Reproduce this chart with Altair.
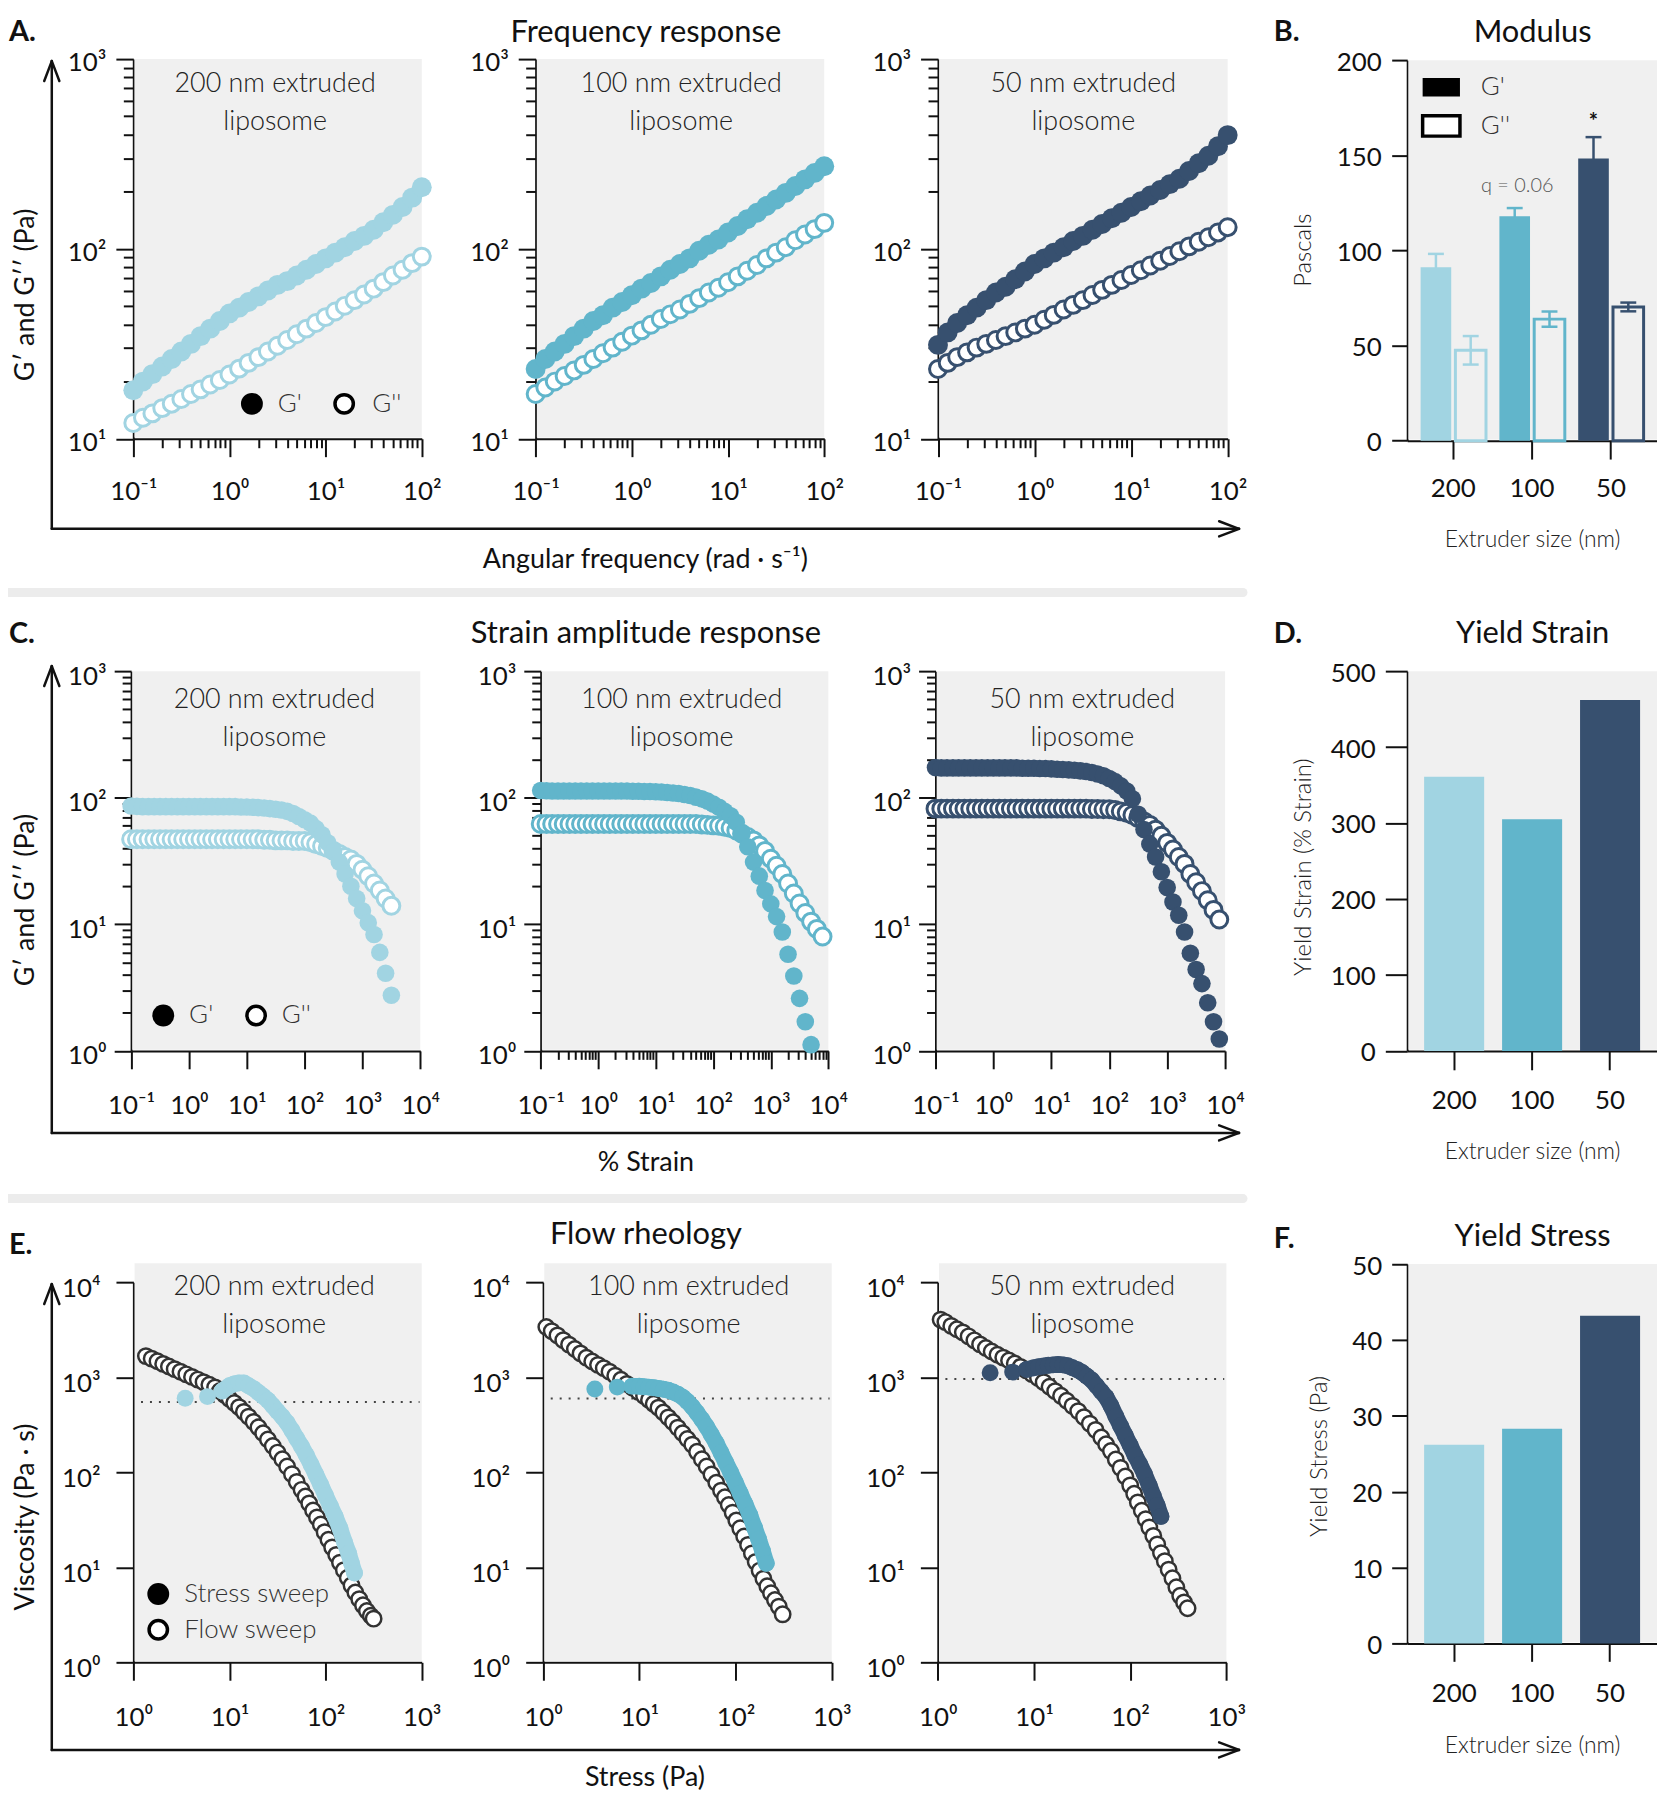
import altair as alt
import pandas as pd

# ===================== DATA =====================
EXTRUDER = ["200", "100", "50"]

# ---- A. Frequency response: angular frequency (rad/s) vs G' / G'' (Pa)
FREQ = [0.1, 0.126, 0.158, 0.2, 0.251, 0.316, 0.398, 0.501, 0.631, 0.794,
        1.0, 1.26, 1.58, 2.0, 2.51, 3.16, 3.98, 5.01, 6.31, 7.94,
        10.0, 12.6, 15.8, 20.0, 25.1, 31.6, 39.8, 50.1, 63.1, 79.4, 100.0]
FREQ_GP_200 = [18.0, 20.0, 21.9, 24.0, 26.3, 28.8, 31.6, 34.7, 38.0, 41.7,
               45.7, 49.0, 52.5, 56.2, 60.3, 64.6, 67.6, 72.4, 77.6, 83.2,
               89.1, 95.5, 102, 110, 117, 126, 138, 151, 166, 186, 211]
FREQ_GPP_200 = [12.1, 12.9, 13.6, 14.5, 15.3, 16.2, 17.2, 18.2, 19.3, 20.4,
                21.8, 23.4, 25.1, 26.9, 28.8, 30.9, 33.1, 35.5, 38.0, 40.7,
                43.7, 46.8, 50.1, 53.7, 57.5, 61.7, 66.8, 72.4, 77.6, 84.1, 91.0]
FREQ_GP_100 = [23.3, 26.3, 28.8, 31.6, 34.7, 38.0, 41.7, 44.7, 49.0, 52.5,
               57.0, 61.7, 66.1, 71.6, 77.6, 83.2, 89.1, 97.7, 105, 112,
               122, 132, 143, 155, 168, 182, 197, 214, 232, 251, 272]
FREQ_GPP_100 = [17.2, 18.6, 20.0, 21.4, 22.9, 24.5, 26.3, 28.2, 30.2, 32.4,
                34.9, 37.2, 39.8, 42.7, 45.2, 47.9, 51.3, 55.0, 58.9, 62.4,
                66.7, 71.6, 76.7, 82.2, 89.1, 95.5, 102, 111, 119, 127, 137]
FREQ_GP_50 = [31.2, 36.3, 40.7, 44.7, 49.0, 53.7, 58.9, 63.1, 69.2, 75.9,
              83.2, 89.1, 95.5, 102, 110, 117, 126, 135, 145, 155,
              166, 178, 191, 204, 219, 234, 257, 282, 309, 347, 397]
FREQ_GPP_50 = [23.3, 25.1, 26.9, 28.5, 30.2, 31.6, 33.1, 34.7, 36.3, 38.0,
               39.8, 42.3, 44.9, 47.9, 50.7, 53.7, 57.1, 60.8, 64.6, 68.5,
               72.8, 77.1, 81.7, 86.5, 91.6, 97.1, 103, 109, 115, 122, 130]

# ---- C. Strain amplitude response: % strain vs G' / G'' (Pa)
STRAIN = [0.1, 0.126, 0.158, 0.2, 0.251, 0.316, 0.398, 0.501, 0.631, 0.794,
          1.0, 1.26, 1.58, 2.0, 2.51, 3.16, 3.98, 5.01, 6.31, 7.94,
          10.0, 12.6, 15.8, 20.0, 25.1, 31.6, 39.8, 50.1, 63.1, 79.4,
          100, 126, 158, 200, 251, 316, 398, 501, 631, 794,
          1000, 1259, 1585, 1995, 2512, 3162, 3981, 5012, 6310, 7943]
STRAIN_GP_200 = [86, 85.5, 85, 85, 85, 85, 85, 85, 85, 85,
                 85, 85, 85, 85, 85, 85, 85, 85, 85, 84.5,
                 84.5, 84, 83.5, 83, 82, 81, 80, 78, 75, 71,
                 67, 63, 57, 51, 44, 37.5, 31, 25, 20, 16,
                 12.8, 10.3, 8.3, 6.0, 4.1, 2.75]
STRAIN_GPP_200 = [47, 47, 47, 47, 47, 47, 47, 47, 47, 47,
                  47, 47, 47, 47, 47, 47, 47, 47, 47, 47,
                  47, 47, 47, 46.5, 46.5, 46, 46, 46, 45.5, 45.5,
                  45.5, 44.5, 43, 41.5, 40, 38, 36, 34, 32.5, 30,
                  27, 24, 21, 18.5, 16, 14]
STRAIN_GP_100 = [114, 113.5, 113, 113, 113, 113, 113, 113, 113, 113,
                 113, 113, 113, 113, 113, 113, 112.5, 112.5, 112, 112,
                 111.5, 111, 110, 109, 108, 106, 104, 101, 98, 94,
                 89, 84, 78, 72, 64, 52, 41, 31, 24, 18.5,
                 14.5, 11.5, 8.7, 5.8, 3.9, 2.6, 1.7, 1.12]
STRAIN_GPP_100 = [62, 62, 62, 62, 62, 62, 62, 62, 62, 62,
                  62, 62, 62, 62, 62, 62, 62, 62, 62, 62,
                  62, 62, 62, 62, 62, 62, 62, 62, 61.5, 61,
                  60.5, 60, 59, 57.5, 55, 52, 49, 46, 42, 38,
                  33, 29, 25, 21, 17.5, 14.6, 12.3, 10.5, 9.2, 8.0]
STRAIN_GP_50 = [173, 172, 172, 172, 172, 172, 172, 172, 172, 172,
                172, 172, 172, 172, 172, 171, 171, 171, 170, 170,
                169, 168, 167, 166, 165, 163, 161, 158, 154, 149,
                142, 134, 124, 113, 98, 74, 56, 43, 34, 26,
                19.5, 15, 11.8, 8.7, 5.9, 4.4, 3.4, 2.4, 1.7, 1.24]
STRAIN_GPP_50 = [82, 82, 82, 82, 82, 82, 82, 82, 82, 82,
                 82, 82, 82, 82, 82, 82, 82, 82, 82, 82,
                 82, 82, 82, 82, 82, 82, 82, 81.5, 81.5, 81,
                 81, 80, 78, 76, 73, 69, 65, 61, 56, 50,
                 44, 39, 34, 30, 25, 21.5, 18.3, 15.5, 13, 10.9]

# ---- E. Flow rheology: stress (Pa) vs viscosity (Pa.s)
FLOW_S_200 = [1.35, 1.55, 1.78, 2.04, 2.34, 2.69, 3.09, 3.55, 4.07, 4.68,
              5.37, 6.17, 7.08, 7.94, 8.91, 10.0, 11.2, 12.6, 14.1, 15.8,
              17.8, 20.0, 22.4, 25.1, 28.2, 31.6, 35.5, 39.8, 44.7, 50.1,
              56.2, 61.7, 67.6, 74.1, 81.3, 89.1, 97.7, 107, 117, 129,
              141, 155, 170, 186, 204, 224, 245, 269, 295, 316]
FLOW_V_200 = [1667, 1567, 1472, 1380, 1297, 1216, 1143, 1072, 1007, 944,
              887, 832, 782, 716, 653, 592, 537, 484, 432, 385,
              339, 297, 257, 221, 189, 161, 137, 115, 95.5, 79.1,
              65.3, 55.6, 47.0, 39.6, 33.5, 28.2, 23.4, 19.5, 16.2, 13.5,
              11.2, 9.33, 7.76, 6.46, 5.43, 4.62, 3.98, 3.47, 3.09, 2.88]
SWEEP_S_200 = [3.46, 5.9, 8.4, 10.0, 11.2, 12.6, 14.1, 15.8, 17.8, 20.0,
               22.4, 25.1, 28.2, 31.6, 35.5, 39.8, 44.7, 50.1, 56.2, 63.1,
               70.8, 79.4, 89.1, 100, 112, 126, 141, 158, 174, 186, 200]
SWEEP_V_200 = [600, 625, 717, 813, 851, 871, 871, 813, 759, 692,
               631, 573, 501, 437, 383, 331, 275, 226, 187, 151,
               120, 94.4, 73.8, 56.9, 44.2, 34.2, 25.7, 18.2, 14.0, 11.0, 8.7]
FLOW_S_100 = [1.08, 1.23, 1.41, 1.62, 1.86, 2.14, 2.45, 2.82, 3.24, 3.72,
              4.27, 4.90, 5.62, 6.46, 7.41, 8.51, 9.77, 11.2, 12.6, 14.1,
              15.8, 17.8, 20.0, 22.4, 25.1, 28.2, 31.6, 35.5, 39.8, 44.7,
              50.1, 56.2, 63.1, 70.8, 77.6, 85.1, 93.3, 102, 112, 123,
              135, 148, 162, 178, 195, 214, 234, 257, 282, 309]
FLOW_V_100 = [3373, 3055, 2754, 2455, 2203, 1982, 1778, 1603, 1462, 1349,
              1245, 1143, 1038, 940, 851, 774, 701, 634, 577, 525,
              478, 425, 378, 336, 295, 257, 224, 195, 164, 137,
              115, 94.6, 77.6, 64.0, 54.5, 45.2, 37.6, 31.1, 25.7, 21.1,
              17.2, 14.0, 11.4, 9.23, 7.59, 6.31, 5.33, 4.52, 3.85, 3.2]
SWEEP_S_100 = [3.45, 5.9, 8.4, 10.0, 11.2, 12.6, 14.1, 15.8, 17.8, 20.0,
               22.4, 25.1, 28.2, 31.6, 35.5, 39.8, 44.7, 50.1, 56.2, 63.1,
               70.8, 79.4, 89.1, 100, 112, 126, 141, 158, 174, 191, 209]
SWEEP_V_100 = [750, 787, 805, 803, 794, 787, 776, 762, 748, 728,
               700, 664, 617, 556, 490, 422, 359, 302, 248, 202,
               160, 126, 99.5, 77.6, 60, 46.2, 35.5, 26, 19.7, 14.8, 11]
FLOW_S_50 = [1.07, 1.20, 1.38, 1.58, 1.82, 2.09, 2.40, 2.75, 3.16, 3.63,
             4.17, 4.79, 5.50, 6.31, 7.24, 8.32, 9.55, 11.0, 12.6, 14.5,
             16.6, 19.1, 21.9, 25.1, 28.8, 33.1, 38.0, 43.7, 50.1, 56.2,
             63.1, 70.8, 79.4, 89.1, 100, 110, 120, 132, 145, 158,
             174, 191, 209, 229, 251, 275, 302, 331, 363, 395]
FLOW_V_50 = [4036, 3802, 3467, 3199, 2965, 2692, 2443, 2213, 2028, 1866,
             1722, 1607, 1500, 1393, 1282, 1178, 1079, 982, 887, 794,
             713, 637, 565, 499, 440, 380, 325, 279, 232, 197,
             167, 136, 111, 90.2, 72.8, 59.3, 48.2, 39.3, 32.1, 26.3,
             21.4, 17.4, 14.1, 11.6, 9.44, 7.67, 6.17, 5.01, 4.27, 3.71]
SWEEP_S_50 = [3.5, 6.0, 8.4, 10.0, 11.2, 12.6, 14.1, 15.8, 17.8, 20.0,
              22.4, 25.1, 28.2, 31.6, 35.5, 39.8, 44.7, 50.1, 56.2, 63.1,
              70.8, 79.4, 89.1, 100, 112, 126, 141, 158, 174, 191, 209]
SWEEP_V_50 = [1114, 1132, 1208, 1259, 1288, 1312, 1334, 1349, 1361, 1349,
              1318, 1259, 1197, 1122, 1023, 933, 813, 708, 617, 501,
              389, 307, 243, 192, 151, 121, 95.5, 72.4, 56.2, 44.7, 34.3]
YIELD_VISC = [550, 598, 960]          # dotted reference lines

# ---- B / D / F bar panels
MOD_GP = [91.2, 118.0, 148.4]
MOD_GP_SD = [7.0, 4.3, 11.2]
MOD_GPP = [47.5, 63.9, 70.3]
MOD_GPP_SD = [7.5, 4.0, 2.3]
YIELD_STRAIN = [361, 305, 462]
YIELD_STRESS = [26.2, 28.3, 43.2]

# tick values
FREQ_MAJOR = [0.1, 1, 10, 100]
FREQ_MINOR = [0.2, 0.3, 0.4, 0.5, 0.6, 0.7, 0.8, 0.9, 2, 3, 4, 5, 6, 7, 8, 9,
              20, 30, 40, 50, 60, 70, 80, 90]
A_Y_MAJOR = [10, 100, 1000]
A_Y_MINOR = [20, 30, 40, 50, 60, 70, 80, 90, 200, 300, 400, 500, 600, 700, 800, 900]
STRAIN_MAJOR = [0.1, 1, 10, 100, 1000, 10000]
STRAIN_MINOR = [0.2, 0.3, 0.4, 0.5, 0.6, 0.7, 0.8, 0.9, 2, 3, 4, 5, 6, 7, 8, 9,
                20, 30, 40, 50, 60, 70, 80, 90, 200, 300, 400, 500, 600, 700, 800, 900,
                2000, 3000, 4000, 5000, 6000, 7000, 8000, 9000]
C_Y_MAJOR = [1, 10, 100, 1000]
C_Y_MINOR = [2, 3, 4, 5, 6, 7, 8, 9, 20, 30, 40, 50, 60, 70, 80, 90,
             200, 300, 400, 500, 600, 700, 800, 900]
E_X_MAJOR = [1, 10, 100, 1000]
E_Y_MAJOR = [1, 10, 100, 1000, 10000]
MOD_TICKS = [0, 50, 100, 150, 200]
STRAIN_TICKS = [0, 100, 200, 300, 400, 500]
STRESS_TICKS = [0, 10, 20, 30, 40, 50]

# ===================== STYLE / LAYOUT =====================
W, H = 1657, 1792
FONT = "Lato"
INK = "#111111"
BG = "#f0f0f0"
RING = "#333333"
COLORS = ["#a1d4e2", "#61b5cb", "#37506f"]
COL = dict(zip(EXTRUDER, COLORS))
LOG_LABEL = ("datum.value < 0.5 ? '10⁻¹' : datum.value < 5 ? '10⁰' : "
             "datum.value < 50 ? '10¹' : datum.value < 500 ? '10²' : "
             "datum.value < 5000 ? '10³' : '10⁴'")


def x_axis(ybase, tick, values=None, pad=0, labels=True, domain=True, expr=LOG_LABEL):
    kw = dict(orient="bottom", offset=ybase - H, tickSize=tick, title=None,
              grid=False, domain=domain, labels=labels)
    if values is not None:
        kw["values"] = values
    if labels:
        kw.update(labelPadding=pad, labelBaseline="middle", labelAngle=0,
                  labelFlush=False, labelOverlap=False)
        if expr:
            kw["labelExpr"] = expr
    return alt.Axis(**kw)


def y_axis(xbase, tick, values, pad=0, labels=True, domain=True, expr=LOG_LABEL, loff=4):
    kw = dict(orient="left", offset=-xbase, values=values, tickSize=tick, title=None,
              grid=False, domain=domain, labels=labels)
    if labels:
        kw.update(labelPadding=pad, labelBaseline="middle", labelAlign="right",
                  labelOffset=loff, labelFlush=False, labelOverlap=False)
        if expr:
            kw["labelExpr"] = expr
    return alt.Axis(**kw)


def log_scales(xr, yr, xdom, ydom):
    return (alt.Scale(type="log", domain=xdom, range=xr, nice=False),
            alt.Scale(type="log", domain=ydom, range=yr, nice=False))


def log_panel(xr, yr, xdom, ydom, ytop, xmaj, ymaj, ax, series, dotted=None):
    xs, ys = log_scales(xr, yr, xdom, ydom)
    xa = x_axis(yr[0], ax["xt"], xmaj, ax["xpad"])
    ya = y_axis(xr[0], ax["yt"], ymaj, ax["ypad"], loff=ax["yoff"])

    def X():
        return alt.X("x:Q", scale=xs, axis=xa)

    def Y():
        return alt.Y("y:Q", scale=ys, axis=ya)

    bgdf = pd.DataFrame({"x": [xdom[0]], "x2": [xdom[1]], "y": [ydom[0]], "y2": [ytop]})
    parts = [alt.Chart(bgdf).mark_rect(color=BG, xOffset=1.2, yOffset=-1.2).encode(
        x=X(), x2="x2:Q", y=Y(), y2="y2:Q")]
    if dotted is not None:
        ddf = pd.DataFrame({"x": [1.2], "x2": [950], "y": [dotted]})
        parts.append(alt.Chart(ddf).mark_rule(color="#444444", strokeWidth=2, strokeDash=[2, 7]).encode(
            x=X(), x2="x2:Q", y=Y()))
    for s in series:
        df = pd.DataFrame({"x": s["x"][:len(s["y"])], "y": s["y"]})
        if s["kind"] == "open":
            parts.append(alt.Chart(df).mark_point(
                shape="circle", filled=True, fill="white", stroke=s["color"],
                strokeWidth=s["sw"], size=s["size"], opacity=1).encode(x=X(), y=Y()))
        elif s["kind"] == "band":
            parts.append(alt.Chart(df).transform_filter("datum.x >= 8").mark_line(
                color=s["color"], strokeWidth=s["width"], strokeCap="round",
                strokeJoin="round", opacity=1).encode(x=X(), y=Y()))
        else:
            parts.append(alt.Chart(df).mark_circle(
                color=s["color"], size=s["size"], opacity=1).encode(x=X(), y=Y()))
    return alt.layer(*parts)


def minor_layer(xr, yr, xdom, ydom, xminor, yminor, xt=9, yt=10):
    xs, ys = log_scales(xr, yr, xdom, ydom)
    df = pd.DataFrame({"x": [xdom[0]], "y": [ydom[0]]})
    xa = x_axis(yr[0], xt, xminor, labels=False, domain=False) if xminor else None
    ya = y_axis(xr[0], yt, yminor, labels=False, domain=False) if yminor else None
    return alt.Chart(df).mark_point(opacity=0).encode(
        x=alt.X("x:Q", scale=xs, axis=xa), y=alt.Y("y:Q", scale=ys, axis=ya))


def px_text(rows, **mk):
    df = pd.DataFrame(rows, columns=["t", "x", "y"])
    return alt.Chart(df).mark_text(font=FONT, **mk).encode(
        x=alt.X("x:Q", scale=None, axis=None), y=alt.Y("y:Q", scale=None, axis=None), text="t:N")


def px_rules(rows, **mk):
    df = pd.DataFrame(rows, columns=["x", "y", "x2", "y2"])
    return alt.Chart(df).mark_rule(**mk).encode(
        x=alt.X("x:Q", scale=None, axis=None), y=alt.Y("y:Q", scale=None, axis=None),
        x2="x2:Q", y2="y2:Q")


def px_rects(rows, **mk):
    df = pd.DataFrame(rows, columns=["x", "y", "x2", "y2"])
    return alt.Chart(df).mark_rect(**mk).encode(
        x=alt.X("x:Q", scale=None, axis=None), y=alt.Y("y:Q", scale=None, axis=None),
        x2="x2:Q", y2="y2:Q")


def px_points(rows, **mk):
    df = pd.DataFrame(rows, columns=["x", "y"])
    return alt.Chart(df).mark_point(**mk).encode(
        x=alt.X("x:Q", scale=None, axis=None), y=alt.Y("y:Q", scale=None, axis=None))


layers = []

# ---------------- row A ----------------
A_X = [(125.9, 415.8), (530.2, 820.2), (934.5, 1225.6)]
A_YR = [428.5, 46.8]
AX_A = dict(xt=18, xpad=35, yt=17.5, ypad=10, yoff=4)
A_SERIES = [(FREQ_GP_200, FREQ_GPP_200), (FREQ_GP_100, FREQ_GPP_100), (FREQ_GP_50, FREQ_GPP_50)]
for (x0, x1), ext, (gp, gpp) in zip(A_X, EXTRUDER, A_SERIES):
    layers.append(log_panel([x0, x1], A_YR, [0.1, 100], [10, 1000], 1000, FREQ_MAJOR, A_Y_MAJOR, AX_A, [
        dict(kind="open", x=FREQ, y=gpp, color=COL[ext], sw=3, size=289),
        dict(kind="filled", x=FREQ, y=gp, color=COL[ext], size=400)]))
    layers.append(minor_layer([x0, x1], A_YR, [0.1, 100], [10, 1000], FREQ_MINOR, A_Y_MINOR))

# ---------------- row C ----------------
C_X = [(123.7, 414.3), (535.3, 824.3), (932.0, 1223.0)]
C_YR = [1043.6, 662.0]
AX_C = dict(xt=18, xpad=37, yt=17, ypad=8, yoff=5)
C_SERIES = [(STRAIN_GP_200, STRAIN_GPP_200), (STRAIN_GP_100, STRAIN_GPP_100), (STRAIN_GP_50, STRAIN_GPP_50)]
for i, ((x0, x1), ext, (gp, gpp)) in enumerate(zip(C_X, EXTRUDER, C_SERIES)):
    layers.append(log_panel([x0, x1], C_YR, [0.1, 10000], [1, 1000], 1000, STRAIN_MAJOR, C_Y_MAJOR, AX_C, [
        dict(kind="open", x=STRAIN, y=gpp, color=COL[ext], sw=3, size=289),
        dict(kind="filled", x=STRAIN, y=gp, color=COL[ext], size=313)]))
    layers.append(minor_layer([x0, x1], C_YR, [0.1, 10000], [1, 1000],
                              STRAIN_MINOR if i == 1 else None, C_Y_MINOR, xt=8.5, yt=9))

# ---------------- row E ----------------
E_X = [(126.0, 415.7), (537.7, 827.7), (934.3, 1224.3)]
E_YR = [1658.0, 1276.0]
AX_E = dict(xt=18, xpad=37.6, yt=17.5, ypad=16, yoff=6)
E_SERIES = [(FLOW_S_200, FLOW_V_200, SWEEP_S_200, SWEEP_V_200),
            (FLOW_S_100, FLOW_V_100, SWEEP_S_100, SWEEP_V_100),
            (FLOW_S_50, FLOW_V_50, SWEEP_S_50, SWEEP_V_50)]
for (x0, x1), ext, (fs, fv, ss, sv), yv in zip(E_X, EXTRUDER, E_SERIES, YIELD_VISC):
    layers.append(log_panel([x0, x1], E_YR, [1, 1000], [1, 10000], 15800, E_X_MAJOR, E_Y_MAJOR, AX_E, [
        dict(kind="open", x=fs, y=fv, color=RING, sw=2.5, size=240),
        dict(kind="band", x=ss, y=sv, color=COL[ext], width=16.5),
        dict(kind="filled", x=ss, y=sv, color=COL[ext], size=289)], dotted=yv))

# ---------------- bar panels ----------------
BAR_RANGE = [1406, 1657]
color_enc = alt.Color("ext:N", scale=alt.Scale(domain=EXTRUDER, range=COLORS), legend=None)


def bar_bg(ys, top, yaxis):
    df = pd.DataFrame({"y": [0], "y2": [top]})
    return alt.Chart(df).mark_rect(color=BG, yOffset=-1.2).encode(
        x=alt.value(1407.2), x2=alt.value(1657), y=alt.Y("y:Q", scale=ys, axis=yaxis), y2="y2:Q")


# B. Modulus
mod = pd.DataFrame({"ext": EXTRUDER + EXTRUDER,
                    "series": ["G'"] * 3 + ["G''"] * 3,
                    "val": MOD_GP + MOD_GPP,
                    "sd": MOD_GP_SD + MOD_GPP_SD})
mod["lo"] = mod["val"] - mod["sd"]
mod["hi"] = mod["val"] + mod["sd"]
ysB = alt.Scale(domain=[0, 200], range=[430.4, 48.2], nice=False, zero=True)
yaB = y_axis(1406, 15.6, MOD_TICKS, pad=10.4, expr=None, loff=2)
xsB = alt.Scale(domain=EXTRUDER, range=BAR_RANGE, paddingInner=0.17, paddingOuter=0.17)
xaB = x_axis(430.4, 18.5, pad=29.4, expr=None)
offB = alt.Scale(domain=["G'", "G''"], paddingInner=0.12, paddingOuter=0)


def XB():
    return alt.X("ext:N", scale=xsB, sort=EXTRUDER, axis=xaB)


def OB():
    return alt.XOffset("series:N", scale=offB, sort=["G'", "G''"])


def YB(field):
    return alt.Y(field + ":Q", scale=ysB, axis=yaB)


layers.append(alt.layer(
    bar_bg(ysB, 200, yaB),
    alt.Chart(mod).mark_rule(strokeWidth=2.5).encode(
        x=XB(), xOffset=OB(), y=YB("lo"), y2="hi:Q", color=color_enc),
    alt.Chart(mod).mark_point(shape="stroke", size=256, strokeWidth=2.5, opacity=1).encode(
        x=XB(), xOffset=OB(), y=YB("hi"), color=color_enc),
    alt.Chart(mod).mark_point(shape="stroke", size=256, strokeWidth=2.5, opacity=1).encode(
        x=XB(), xOffset=OB(), y=YB("lo"), color=color_enc),
    alt.Chart(mod).transform_filter("datum.series == \"G'\"").mark_bar(opacity=1).encode(
        x=XB(), xOffset=OB(), y=YB("val"), color=color_enc),
    alt.Chart(mod).transform_filter("datum.series == \"G''\"").mark_bar(
        filled=False, strokeWidth=3, opacity=1).encode(
        x=XB(), xOffset=OB(), y=YB("val"), color=color_enc),
))

# D. Yield strain, F. Yield stress
for vals, ydom, yr, ticks, ybase, ytick, xtick, xpad in [
        (YIELD_STRAIN, 500, [1043.6, 662.0], STRAIN_TICKS, 1043.6, 22, 19, 31),
        (YIELD_STRESS, 50, [1639.0, 1257.8], STRESS_TICKS, 1639.0, 15.6, 18, 32)]:
    df = pd.DataFrame({"ext": EXTRUDER, "val": vals})
    ys = alt.Scale(domain=[0, ydom], range=yr, nice=False, zero=True)
    ya = y_axis(1406, ytick, ticks, pad=10, expr=None, loff=2)
    xs = alt.Scale(domain=EXTRUDER, range=BAR_RANGE, paddingInner=0.23, paddingOuter=0.217)
    layers.append(alt.layer(
        bar_bg(ys, ydom, ya),
        alt.Chart(df).mark_bar(opacity=1).encode(
            x=alt.X("ext:N", scale=xs, sort=EXTRUDER, axis=x_axis(ybase, xtick, pad=xpad, expr=None)),
            y=alt.Y("val:Q", scale=ys, axis=ya), color=color_enc)))

# ---------------- decorations ----------------
layers.append(px_rules([(0, 583, 1241, 583), (0, 1192, 1241, 1192)],
                       color="#ececec", strokeWidth=9, strokeCap="round"))
arrows = []
for ytop, ybot in [(49, 519), (657, 1126), (1278, 1746)]:
    arrows += [(44, ybot, 44, ytop), (44, ybot, 1237, ybot),
               (36.4, ytop + 20, 44, ytop), (51.6, ytop + 20, 44, ytop),
               (1217, ybot - 7.6, 1237, ybot), (1217, ybot + 7.6, 1237, ybot)]
layers.append(px_rules(arrows, color=INK, strokeWidth=2.5, strokeCap="round"))

layers.append(px_text([("A.", 1, 29), ("B.", 1272, 29), ("C.", 1, 634),
                       ("D.", 1272, 634), ("E.", 1, 1247.5), ("F.", 1272, 1241.7)],
                      fontSize=29, fontWeight="bold", align="left", baseline="alphabetic", color=INK))
layers.append(px_text([("Frequency response", 641, 30), ("Modulus", 1532, 30),
                       ("Strain amplitude response", 641, 633.3), ("Yield Strain", 1532, 634),
                       ("Flow rheology", 641, 1238), ("Yield Stress", 1532, 1240)],
                      fontSize=31, align="center", baseline="alphabetic", color=INK))

panel_rows = []
for xs_, b1, b2 in [([268.4, 676.5, 1080.5], 80, 118), ([267.7, 677, 1079.5], 698.7, 737),
                    ([267.5, 684, 1079.5], 1288.7, 1327)]:
    for xc, ext in zip(xs_, EXTRUDER):
        panel_rows.append((ext + " nm extruded", xc, b1))
        panel_rows.append(("liposome", xc, b2))
layers.append(px_text(panel_rows, fontSize=27, fontWeight=300, align="center",
                      baseline="alphabetic", color="#222222"))

layers.append(px_text([("G′ and G′′ (Pa)", 18, 284), ("G′ and G′′ (Pa)", 18, 892),
                       ("Viscosity (Pa · s)", 18, 1512)],
                      fontSize=27, angle=270, align="center", baseline="middle", color=INK))
layers.append(px_text([("Angular frequency (rad · s⁻¹)", 640.5, 558), ("% Strain", 641, 1164),
                       ("Stress (Pa)", 640, 1782)],
                      fontSize=27, align="center", baseline="alphabetic", color=INK))
layers.append(px_text([("Pascals", 1302, 239), ("Yield Strain (% Strain)", 1302, 859),
                       ("Yield Stress (Pa)", 1318, 1451)],
                      fontSize=24, fontWeight=300, angle=270, align="center", baseline="middle",
                      color="#222222"))
layers.append(px_text([("Extruder size (nm)", 1532, 537.7), ("Extruder size (nm)", 1532, 1152.7),
                       ("Extruder size (nm)", 1532, 1748.8)],
                      fontSize=23, fontWeight=300, align="center", baseline="alphabetic",
                      color="#222222"))

# in-panel legends
layers.append(px_points([(245.1, 393.4), (156, 1008), (151, 1589.3)],
                        shape="circle", filled=True, color="#000000", size=484, opacity=1))
layers.append(px_points([(337.8, 393.4), (249.3, 1008), (151, 1625.3)],
                        shape="circle", filled=True, fill="white", stroke="#000000",
                        strokeWidth=3.5, size=340, opacity=1))
layers.append(px_text([("G'", 271, 393.4), ("G''", 366, 393.4), ("G'", 182, 1008),
                       ("G''", 275, 1008), ("Stress sweep", 177, 1589.3),
                       ("Flow sweep", 177, 1625.3), ("G'", 1480, 75.2), ("G''", 1480, 114)],
                      fontSize=26, fontWeight=300, align="left", baseline="middle", color="#333333"))
layers.append(px_rects([(1421.5, 66, 1459, 84.5)], color="#000000"))
layers.append(px_rects([(1421.5, 104, 1459, 124.4)], fill="white", stroke="#000000", strokeWidth=3.5))
layers.append(px_text([("q = 0.06", 1516.6, 175)], fontSize=20, fontWeight=300,
                      align="center", baseline="middle", color="#555555"))
layers.append(px_text([("*", 1593, 117)], fontSize=22, fontWeight="bold",
                      align="center", baseline="alphabetic", color=INK))

chart = alt.layer(*layers).resolve_scale(
    x="independent", y="independent", xOffset="independent"
).properties(
    width=W, height=H, padding=0, autosize=alt.AutoSizeParams(type="none")
).configure_view(stroke=None).configure_axis(
    labelFont=FONT, labelFontSize=26, labelColor=INK, domainColor=INK, tickColor=INK,
    domainWidth=2, tickWidth=2, grid=False
).configure_text(font=FONT)

chart.save("out.html", embed_options={"renderer": "svg", "actions": False})
